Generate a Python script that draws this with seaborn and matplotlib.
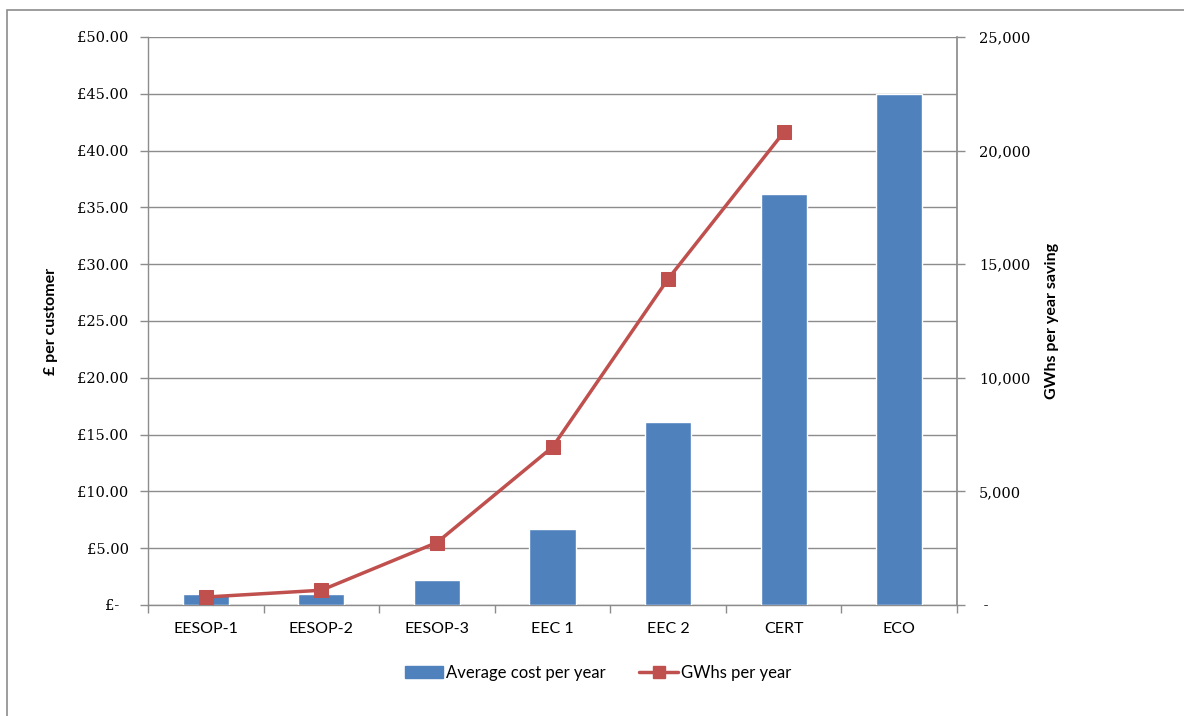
import numpy as np
import pandas as pd
import matplotlib
matplotlib.use("Agg")
import matplotlib.pyplot as plt
import matplotlib.ticker as mticker
from matplotlib.patches import Rectangle
from matplotlib.lines import Line2D
from matplotlib.patches import Patch
import seaborn as sns

# data
schemes = ["EESOP-1", "EESOP-2", "EESOP-3", "EEC 1", "EEC 2", "CERT", "ECO"]
avg_cost = [1.0, 1.0, 2.2, 6.7, 16.1, 36.2, 45.0]
gwh_schemes = ["EESOP-1", "EESOP-2", "EESOP-3", "EEC 1", "EEC 2", "CERT"]
gwh_per_year = [350, 650, 2750, 6950, 14350, 20800]

sns.set_theme(style="white")
plt.rcParams["font.family"] = ["Lato", "DejaVu Sans"]
plt.rcParams["text.color"] = "black"
plt.rcParams["xtick.color"] = "black"
plt.rcParams["ytick.color"] = "black"
plt.rcParams["axes.labelcolor"] = "black"

bar_col = "#4F81BD"
line_col = "#C0504D"
grey = "#8C8C8C"
tick_font = "DejaVu Serif"

df = pd.DataFrame({"scheme": schemes, "cost": avg_cost})

fig = plt.figure(figsize=(11.84, 7.16), dpi=100)
ax = fig.add_axes([148 / 1184, 1 - 605 / 716, (957 - 148) / 1184, (605 - 37) / 716])

sns.barplot(data=df, x="scheme", y="cost", color=bar_col, width=0.4,
            saturation=1, ax=ax, zorder=3)
ax.set_xlim(-0.5, len(schemes) - 0.5)
ax.set_ylim(0, 50)
ax.set_yticks(np.arange(0, 50.1, 5))
ax.yaxis.set_major_formatter(mticker.FuncFormatter(
    lambda v, p: "£-\u00a0\u00a0" if v == 0 else f"£{v:.2f}"))
ax.grid(axis="y", color=grey, lw=1, zorder=0)
ax.set_axisbelow(True)
ax.set_xlabel("")
ax.set_ylabel("£ per customer", fontsize=11.5, fontweight="bold", labelpad=14)

for s in ["top", "right"]:
    ax.spines[s].set_visible(False)
for s in ["left", "bottom"]:
    ax.spines[s].set_color(grey)
    ax.spines[s].set_linewidth(1)

ax.tick_params(axis="y", length=6, color=grey, width=1, direction="out",
               left=True, pad=8)
for t in ax.get_yticklabels():
    t.set_family(tick_font)
    t.set_fontsize(10.5)
ax.tick_params(axis="x", which="major", length=0, pad=12, labelsize=11.5)
ax.set_xticks(np.arange(-0.5, len(schemes), 1), minor=True)
ax.tick_params(axis="x", which="minor", length=6, color=grey, width=1,
               direction="out", bottom=True)

ax2 = ax.twinx()
sns.lineplot(x=np.arange(len(gwh_schemes)), y=gwh_per_year, ax=ax2,
             color=line_col, lw=2.5, marker="s", markersize=10,
             markeredgecolor=line_col, zorder=5)
ax2.set_ylim(0, 25000)
ax2.set_yticks(np.arange(0, 25001, 5000))
ax2.yaxis.set_major_formatter(mticker.FuncFormatter(
    lambda v, p: "\u00a0-" if v == 0 else f"{int(v):,}"))
ax2.set_ylabel("GWhs per year saving", fontsize=11.5, fontweight="bold", labelpad=10)
for s in ["top", "left", "bottom"]:
    ax2.spines[s].set_visible(False)
ax2.spines["right"].set_color(grey)
ax2.tick_params(axis="y", length=6, color=grey, width=1, direction="out",
                right=True, pad=10)
for t in ax2.get_yticklabels():
    t.set_family(tick_font)
    t.set_fontsize(10.5)
ax2.grid(False)

handles = [Patch(facecolor=bar_col, edgecolor=bar_col),
           Line2D([0], [0], color=line_col, lw=2.5, marker="s", markersize=9)]
fig.legend(handles, ["Average cost per year", "GWhs per year"],
           loc="center", bbox_to_anchor=(598 / 1184, 1 - 673 / 716), ncol=2,
           frameon=False, fontsize=12, handlelength=2.3, handletextpad=0.2,
           columnspacing=2.0)

fig.patches.append(Rectangle((7 / 1184, -0.05), 1.1, 1 - 10 / 716 + 0.05,
                             transform=fig.transFigure, fill=False,
                             edgecolor=grey, lw=1.2))

fig.savefig("out.png", dpi=100)
